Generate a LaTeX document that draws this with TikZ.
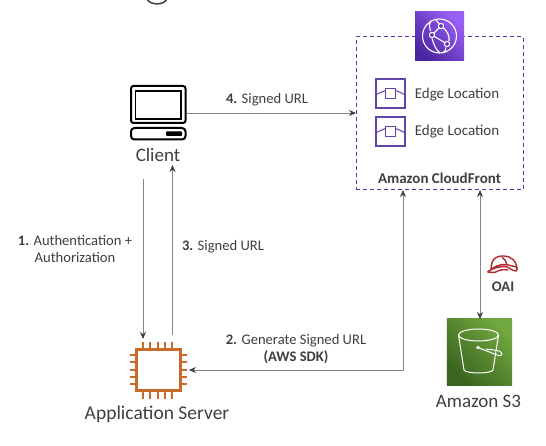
\documentclass[tikz,border=0pt]{standalone}
\usepackage{fontspec}
\setmainfont{Carlito}
\usetikzlibrary{arrows.meta,calc}
\definecolor{ink}{HTML}{3F3F3F}
\definecolor{linec}{HTML}{858585}
\definecolor{purp}{HTML}{5A30B5}
\definecolor{purpd}{HTML}{4A25A0}
\definecolor{purpl}{HTML}{9A60F5}
\definecolor{orng}{HTML}{C9692A}
\definecolor{hat}{HTML}{B0272D}
\definecolor{greend}{HTML}{3A641F}
\definecolor{greenl}{HTML}{70A83F}
\tikzset{
  x=1pt,y=-1pt,
  conn/.style={draw=linec,line width=0.8pt,-{Stealth[length=7pt,width=6pt,color=ink]}},
  conn2/.style={draw=linec,line width=0.8pt,{Stealth[length=7pt,width=6pt,color=ink]}-{Stealth[length=7pt,width=6pt,color=ink]}},
  box/.style={inner sep=0pt,outer sep=0pt,minimum width=#1,minimum height=#1},
  lbl/.style={text=ink,font=\fontsize{14.6}{17}\selectfont,align=center,inner sep=0pt},
  big/.style={text=ink,font=\fontsize{19}{22}\selectfont,inner sep=0pt},
  edgebox/.style={draw=purp!75!gray,line width=1.3pt,inner sep=0pt,minimum width=29pt,minimum height=29pt},
  pin/.style={draw=orng,line width=2pt},
}
\begin{document}
\begin{tikzpicture}
\useasboundingbox (0,0) rectangle (546,446);
\fill[white] (0,0) rectangle (546,446);
% cropped title descender
\draw[ink,line width=1.5pt] (147,-1) .. controls (150,5.5) and (164,5.5) .. (167,-1);
% CloudFront frame
\node[draw=purp,line width=1pt,dash pattern=on 4pt off 3pt,inner sep=0pt,minimum width=167pt,minimum height=153pt] (cf) at (439.5,113.5) {};
\node[box=49pt] (cficon) at (439.5,36.5) {};
\shade[left color=purpl,right color=purpd,shading angle=-45] (cficon.south west) rectangle (cficon.north east);
\begin{scope}[white,line width=1.1pt]
  \draw (439.5,36) circle (17);
  \draw (432,35) -- (441,26);
  \draw (432,35) -- (447,44);
  \draw (441,26) .. controls (447,30) and (450,36) .. (449,41);
  \draw (430.5,31) .. controls (429,26) and (429,23) .. (431,20.5);
  \draw (432,38.5) .. controls (434,45) and (436,50) .. (440,53);
  \draw (446,47.5) .. controls (446,50) and (445,51) .. (443,53);
  \draw (441,26) -- (436,20);
  \filldraw[fill=purp] (441,26) circle (2.6) (432,35) circle (2.6) (447,44) circle (2.6);
\end{scope}
% Edge locations
\foreach \n/\y in {e1/93.5,e2/131.5}{
  \node[edgebox] (\n) at (390.5,\y) {};
  \draw[purp!75!gray,line width=1pt] (\n.west) ++(0,2) .. controls +(3,-3) and +(6,-4.5) .. (390.5,\y-3);
  \draw[purp!75!gray,line width=1pt] (\n.east) ++(0,2) .. controls +(-3,-3) and +(-6,-4.5) .. (390.5,\y-3);
  \node[draw=purp!75!gray,line width=1pt,fill=white,inner sep=0pt,minimum width=10pt,minimum height=9.5pt] (\n c) at (390.5,\y) {};
}
\node[lbl,font=\fontsize{15}{17}\selectfont] (e1t) at (457,94.5) {Edge Location};
\node[lbl,font=\fontsize{15}{17}\selectfont] (e2t) at (457,131.5) {Edge Location};
\node[lbl,font=\bfseries\fontsize{15}{17}\selectfont] (cft) at (439.5,178) {Amazon CloudFront};
% Client
\node[box=55pt] (client) at (158,112.5) {};
\draw[black,line width=2pt,rounded corners=2.5pt] (131,86) rectangle (185.5,123);
\draw[black,line width=1.5pt] (135.5,91) rectangle (181,119);
\draw[black,line width=2pt,rounded corners=3.5pt] (131,128) rectangle (185.5,139.5);
\fill[black,rounded corners=1pt] (166,131.5) rectangle (182,136);
\node[big] (clientt) at (158,155) {Client};
% Server
\node[draw=orng,line width=2.2pt,inner sep=0pt,minimum width=44pt,minimum height=41pt] (srv) at (158.5,370) {};
\foreach \x in {143,150.3,157.6,165,172.3}{
  \draw[pin] (\x,341.5) -- (\x,348);
  \draw[pin] (\x,392) -- (\x,398.5);
}
\foreach \y in {355,362.3,369.6,377,384.3}{
  \draw[pin] (129.5,\y) -- (135.5,\y);
  \draw[pin] (181.5,\y) -- (187,\y);
}
\node[big,font=\fontsize{19.5}{22}\selectfont] (srvt) at (157,414) {Application Server};
% S3
\node[inner sep=0pt,minimum width=65pt,minimum height=66pt] (s3) at (479.5,352) {};
\shade[left color=greenl,right color=greend,shading angle=-45] (s3.south west) rectangle (s3.north east);
\begin{scope}[white,line width=1pt]
  \draw (478.5,335) ellipse (20 and 6);
  \draw (458.5,335) -- (464,370) .. controls (466,374) and (491,374) .. (493,370) -- (498.5,335);
  \draw (478,347.5) -- (497,355) .. controls (503,357.5) and (503,352) .. (499,351) .. controls (495,350) and (490,349.5) .. (486,349);
  \fill (478,347.5) circle (1.8);
\end{scope}
\node[big] (s3t) at (478.5,401) {Amazon S3};
% OAI
\node[inner sep=0pt,minimum width=32pt,minimum height=18pt] (oai) at (502,265) {};
\begin{scope}[hat,line width=1.4pt,rounded corners=1pt]
  \draw (491,270) .. controls (491,258) and (497,256) .. (503,256) .. controls (511,256) and (517,261) .. (517,270);
  \draw (487.5,272) .. controls (492,268) and (504,265) .. (509,268) .. controls (512,270) and (514,271) .. (517,271) -- (517,267) -- (508,265) .. controls (500,263) and (492,268) .. (491,270);
  \draw (487.5,272) -- (495,272.5) .. controls (499,270) and (504,269) .. (508,270);
  \draw (502,257) .. controls (505,260) and (507,262) .. (507,265);
\end{scope}
\node[lbl,font=\bfseries\fontsize{14.6}{17}\selectfont] (oait) at (503,287) {OAI};
% labels
\node[lbl] (l4) at (267,100) {\textbf{4.} Signed URL};
\node[lbl] (l1) at (75,249) {\textbf{1.} Authentication +\\Authorization};
\node[lbl] (l3) at (223,247) {\textbf{3.} Signed URL};
\node[lbl] (l2) at (296,349) {\textbf{2.} Generate Signed URL\\\textbf{(AWS SDK)}};
% connectors
\coordinate (c4a) at (187,113);
\coordinate (c4b) at (356,113);
\coordinate (c1a) at (143,179);
\coordinate (c1b) at (143,339);
\coordinate (c3a) at (172.5,335);
\coordinate (c3b) at (172.5,165);
\coordinate (c2a) at (403,190);
\coordinate (c2c) at (403,370);
\coordinate (c2b) at (189,370);
\coordinate (c5a) at (480,190);
\coordinate (c5b) at (480,319);
\draw[conn] (c4a) -- (c4b);
\draw[conn] (c1a) -- (c1b);
\draw[conn] (c3a) -- (c3b);
\draw[conn2] (c2a) -- (c2c) -- (c2b);
\draw[conn2] (c5a) -- (c5b);
\end{tikzpicture}
\end{document}
